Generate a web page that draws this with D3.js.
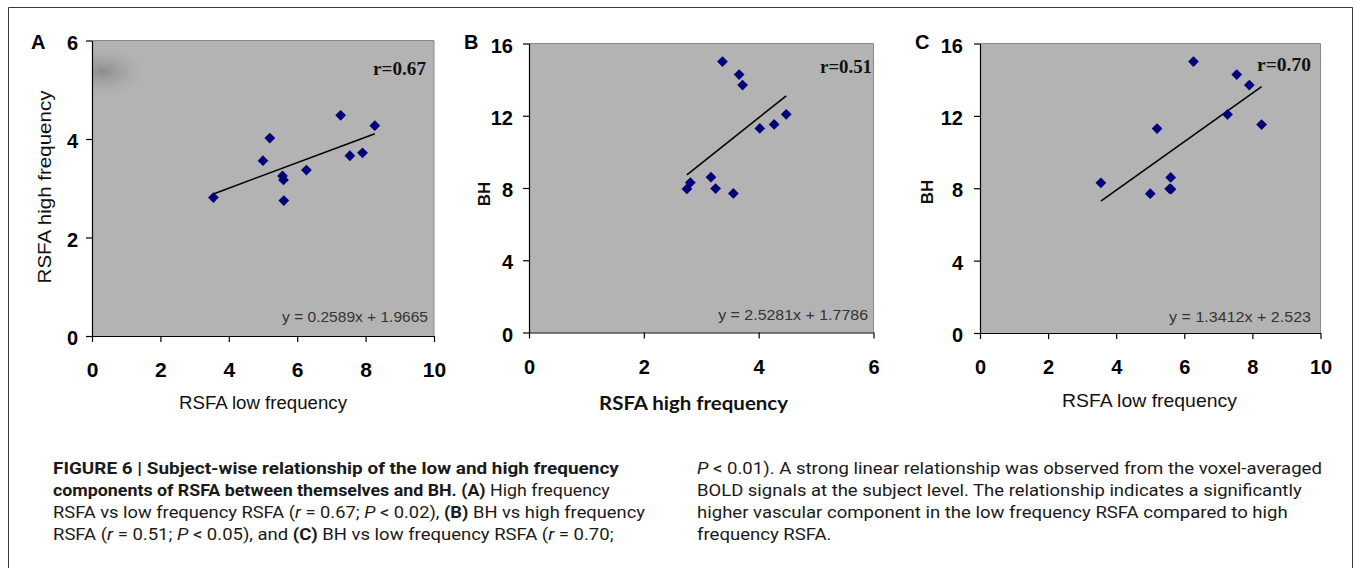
<!DOCTYPE html>
<html>
<head>
<meta charset="utf-8">
<script src="https://cdn.jsdelivr.net/npm/d3@7"></script>
<style>
  html, body { margin: 0; padding: 0; background: #fff; }
  svg { display: block; }
</style>
</head>
<body>
<svg id="fig" width="1356" height="568"></svg>
<script>
// Per-subject measurements (11 subjects)
const lowFreqRSFA  = [3.55, 5.00, 5.20, 5.57, 5.60, 5.61, 6.27, 7.27, 7.54, 7.91, 8.27];
const highFreqRSFA = [2.81, 3.56, 4.02, 3.25, 3.17, 2.75, 3.37, 4.48, 3.66, 3.72, 4.27];
const breathHold   = [8.30, 7.70, 11.30, 7.97, 8.60, 7.95, 15.00, 12.08, 14.28, 13.70, 11.52];

// Reported linear fits and correlations, panels A, B, C
const panelLetters  = ["A", "B", "C"];
const fitSlopes     = [0.2589, 2.5281, 1.3412];
const fitIntercepts = [1.9665, 1.7786, 2.523];
const correlations  = [0.67, 0.51, 0.70];

// Axis titles and tick values
const xTitles    = ["RSFA low frequency", "RSFA high frequency", "RSFA low frequency"];
const yTitles    = ["RSFA high frequency", "BH", "BH"];
const xTicksLow  = [0, 2, 4, 6, 8, 10];
const xTicksHigh = [0, 2, 4, 6];
const yTicksHigh = [0, 2, 4, 6];
const yTicksBH   = [0, 4, 8, 12, 16];

// Caption lines: each is a list of [text, style] runs
const captionLeft = [
  [["FIGURE 6 | Subject-wise relationship of the low and high frequency", "b"]],
  [["components of RSFA between themselves and BH. (A)", "b"], [" High frequency", ""]],
  [["RSFA vs low frequency RSFA (", ""], ["r", "i"], [" = 0.67; ", ""], ["P", "i"], [" < 0.02), ", ""], ["(B)", "b"], [" BH vs high frequency", ""]],
  [["RSFA (", ""], ["r", "i"], [" = 0.51; ", ""], ["P", "i"], [" < 0.05), and ", ""], ["(C)", "b"], [" BH vs low frequency RSFA (", ""], ["r", "i"], [" = 0.70;", ""]]
];
const captionRight = [
  [["P", "i"], [" < 0.01). A strong linear relationship was observed from the voxel-averaged", ""]],
  [["BOLD signals at the subject level. The relationship indicates a significantly", ""]],
  [["higher vascular component in the low frequency RSFA compared to high", ""]],
  [["frequency RSFA.", ""]]
];

const svg = d3.select("#fig");
const SANS = "'Liberation Sans', Arial, sans-serif";
const SERIF = "'Liberation Serif', 'Times New Roman', serif";

// Outer frame of the figure
svg.append("path")
  .attr("d", "M8.5,568 V7.5 H1352.5 V568")
  .attr("fill", "none").attr("stroke", "#3a3a3a").attr("stroke-width", 1);

// Soft dark spot in the plot area of panel A
const defs = svg.append("defs");
const grad = defs.append("radialGradient").attr("id", "spot");
grad.append("stop").attr("offset", "0%").attr("stop-color", "#8a8a8a").attr("stop-opacity", 0.95);
grad.append("stop").attr("offset", "50%").attr("stop-color", "#9c9c9c").attr("stop-opacity", 0.5);
grad.append("stop").attr("offset", "100%").attr("stop-color", "#b3b3b3").attr("stop-opacity", 0);

// Scale a text node horizontally so it spans a given width; returns the factor
function fitTo(textSel, width, tx, ty, rotate, factor) {
  const len = textSel.node().getComputedTextLength();
  const k = factor || width / len;
  textSel.attr("transform", `translate(${tx},${ty})` + (rotate ? ` rotate(${rotate})` : "") + ` scale(${k},1)`);
  return k;
}

const layouts = [
  { xs: lowFreqRSFA, ys: highFreqRSFA, xDomain: [0, 10], yDomain: [0, 6], xTicks: xTicksLow, yTicks: yTicksHigh,
    l: 92, r: 434, t: 40.5, b: 336, letterX: 31, xTickBase: 377, xTickSize: 21, yTickRight: 78,
    xTitle: { cx: 263, y: 409, w: 168, bold: false }, yTitle: { x: 51, cy: 187, w: 193, bold: false },
    rEnd: 426, rBase: 75, rW: 53, eqEnd: 428, eqBase: 322, eqW: 146, spot: true },
  { xs: highFreqRSFA, ys: breathHold, xDomain: [0, 6], yDomain: [0, 16], xTicks: xTicksHigh, yTicks: yTicksBH,
    l: 529, r: 873.5, t: 43.5, b: 332.5, letterX: 464, xTickBase: 374, xTickSize: 20, yTickRight: 513,
    xTitle: { cx: 693.5, y: 410, w: 189, bold: true }, yTitle: { x: 490, cy: 194, w: null, bold: true },
    rEnd: 872, rBase: 73, rW: 52, eqEnd: 868, eqBase: 320, eqW: 150, spot: false },
  { xs: lowFreqRSFA, ys: breathHold, xDomain: [0, 10], yDomain: [0, 16], xTicks: xTicksLow, yTicks: yTicksBH,
    l: 980, r: 1320.5, t: 43.5, b: 333, letterX: 915, xTickBase: 374, xTickSize: 20, yTickRight: 963,
    xTitle: { cx: 1149.5, y: 407, w: 175, bold: false }, yTitle: { x: 933, cy: 192, w: null, bold: true },
    rEnd: 1311, rBase: 71, rW: 54, eqEnd: 1311, eqBase: 322, eqW: 142, spot: false }
];

layouts.forEach((L, i) => {
  const x = d3.scaleLinear().domain(L.xDomain).range([L.l, L.r]);
  const y = d3.scaleLinear().domain(L.yDomain).range([L.b, L.t]);
  const g = svg.append("g");

  // plot background
  g.append("rect").attr("x", L.l).attr("y", L.t).attr("width", L.r - L.l).attr("height", L.b - L.t)
    .attr("fill", "#b3b3b3");
  if (L.spot) {
    const clipId = "clip" + i;
    defs.append("clipPath").attr("id", clipId).append("rect")
      .attr("x", L.l).attr("y", L.t).attr("width", L.r - L.l).attr("height", L.b - L.t);
    g.append("ellipse").attr("clip-path", `url(#${clipId})`)
      .attr("cx", L.l + 11).attr("cy", L.t + 31).attr("rx", 46).attr("ry", 27)
      .attr("fill", "url(#spot)");
  }
  // top and right edges of the plot area
  g.append("path").attr("d", `M${L.l},${L.t} H${L.r} V${L.b}`)
    .attr("fill", "none").attr("stroke", "#8a8a8a").attr("stroke-width", 1);

  // axes
  const xAxis = g.append("g").attr("transform", `translate(0,${L.b})`)
    .call(d3.axisBottom(x).tickValues(L.xTicks).tickSize(6).tickSizeOuter(0).tickFormat(d3.format("d")));
  const yAxis = g.append("g").attr("transform", `translate(${L.l},0)`)
    .call(d3.axisLeft(y).tickValues(L.yTicks).tickSize(6).tickSizeOuter(0).tickFormat(d3.format("d")));
  [xAxis, yAxis].forEach(a => {
    a.select(".domain").attr("stroke", "#000").attr("stroke-width", 1.2);
    a.selectAll(".tick line").attr("stroke", "#000").attr("stroke-width", 1.2);
  });
  xAxis.selectAll(".tick text")
    .attr("y", L.xTickBase - L.b).attr("dy", null)
    .attr("font-family", SANS).attr("font-weight", "bold").attr("font-size", L.xTickSize).attr("fill", "#000");
  yAxis.selectAll(".tick text")
    .attr("x", L.yTickRight - L.l).attr("dy", null).attr("y", 8.5)
    .attr("font-family", SANS).attr("font-weight", "bold").attr("font-size", 20).attr("fill", "#000");

  // fitted trend line, spanning the observed x range
  const xr = d3.extent(L.xs);
  const line = d3.line().x(d => x(d)).y(d => y(fitSlopes[i] * d + fitIntercepts[i]));
  g.append("path").attr("d", line(xr)).attr("fill", "none").attr("stroke", "#000").attr("stroke-width", 1.6);

  // subject markers
  const diamond = d3.symbol(d3.symbolSquare, 58);
  g.selectAll("path.pt").data(L.xs.map((v, k) => [v, L.ys[k]])).join("path")
    .attr("class", "pt")
    .attr("d", diamond)
    .attr("transform", d => `translate(${x(d[0])},${y(d[1])}) rotate(45)`)
    .attr("fill", "#00007a");

  // correlation label
  const rt = g.append("text").attr("text-anchor", "end")
    .attr("font-family", SERIF).attr("font-weight", "bold").attr("font-size", 19).attr("fill", "#111")
    .text("r=" + correlations[i].toFixed(2));
  fitTo(rt, L.rW, L.rEnd, L.rBase);

  // fit equation label
  const et = g.append("text").attr("text-anchor", "end")
    .attr("font-family", SANS).attr("font-size", 15).attr("fill", "#333")
    .text(`y = ${fitSlopes[i]}x + ${fitIntercepts[i]}`);
  fitTo(et, L.eqW, L.eqEnd, L.eqBase);

  // panel letter
  g.append("text").attr("x", L.letterX).attr("y", 48.5)
    .attr("font-family", SANS).attr("font-weight", "bold").attr("font-size", 20).attr("fill", "#000")
    .text(panelLetters[i]);

  // axis titles
  const xt = g.append("text").attr("text-anchor", "middle")
    .attr("font-family", L.xTitle.bold ? "Lato, 'Open Sans', sans-serif" : SANS)
    .attr("font-weight", L.xTitle.bold ? "bold" : "normal")
    .attr("font-size", 18).attr("fill", "#111").text(xTitles[i]);
  fitTo(xt, L.xTitle.w, L.xTitle.cx, L.xTitle.y);

  const yt = g.append("text").attr("text-anchor", "middle")
    .attr("font-family", SANS).attr("font-weight", L.yTitle.bold ? "bold" : "normal")
    .attr("font-size", L.yTitle.bold ? 17 : 18).attr("fill", "#111").text(yTitles[i]);
  if (L.yTitle.w) fitTo(yt, L.yTitle.w, L.yTitle.x, L.yTitle.cy, -90);
  else yt.attr("transform", `translate(${L.yTitle.x},${L.yTitle.cy}) rotate(-90)`);
});

// caption, two columns; the short closing line keeps the previous line's scale
function drawCaption(lines, x0, ends) {
  const baselines = [474, 496, 518, 540];
  let k = null;
  lines.forEach((runs, li) => {
    const t = svg.append("text")
      .attr("font-family", "Roboto, 'Liberation Sans', sans-serif").attr("font-size", 16).attr("fill", "#1a1a1a")
      .attr("xml:space", "preserve").style("white-space", "pre");
    runs.forEach(([txt, st]) => {
      t.append("tspan").text(txt)
        .attr("font-weight", st === "b" ? "bold" : "normal")
        .attr("font-style", st === "i" ? "italic" : "normal");
    });
    if (ends[li] === null) fitTo(t, 0, x0, baselines[li], null, k);
    else k = fitTo(t, ends[li] - x0, x0, baselines[li]);
  });
}
drawCaption(captionLeft, 53, [619, 610, 645, 614]);
drawCaption(captionRight, 697, [1322, 1302, 1288, null]);
</script>
</body>
</html>
